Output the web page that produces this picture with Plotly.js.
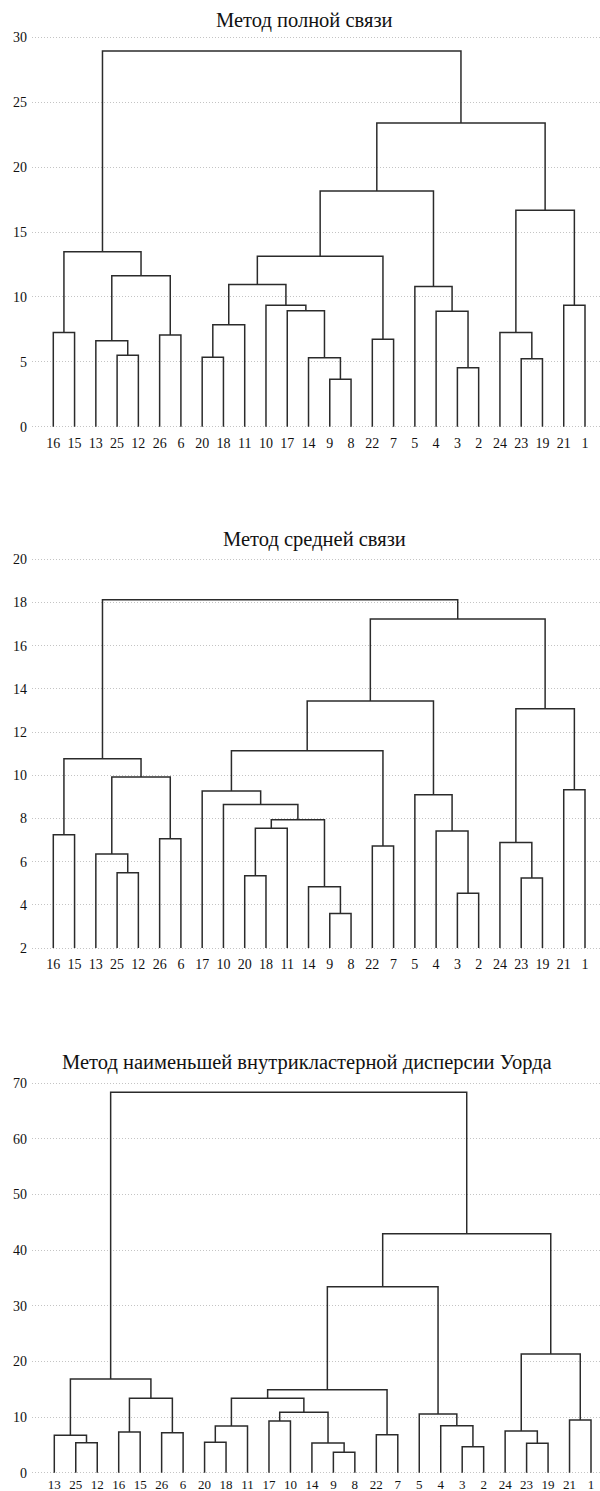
<!DOCTYPE html>
<html>
<head>
<meta charset="utf-8">
<script src="https://cdn.plot.ly/plotly-3.0.1.min.js"></script>
<style>html,body{margin:0;padding:0;background:#fff;}#chart{width:600px;height:1491px;}</style>
</head>
<body>
<div id="chart"></div>
<script>
// ---------- DATA ----------
const titles = [
  "Метод полной связи",
  "Метод средней связи",
  "Метод наименьшей внутрикластерной дисперсии Уорда"
];

// leaf order (tick labels) for each dendrogram
const leavesComplete = [16,15,13,25,12,26,6,20,18,11,10,17,14,9,8,22,7,5,4,3,2,24,23,19,21,1];
const leavesAverage  = [16,15,13,25,12,26,6,17,10,20,18,11,14,9,8,22,7,5,4,3,2,24,23,19,21,1];
const leavesWard     = [13,25,12,16,15,26,6,20,18,11,17,10,14,9,8,22,7,5,4,3,2,24,23,19,21,1];

// merges: left child, right child (leaf number or "mK" = K-th merge), merge height
const completeLeft   = [16,25,13,26,"m2","m0",20,"m6",9,14,17,10,"m7",22,"m12",3,4,5,"m14",23,24,21,"m20","m18","m5"];
const completeRight  = [15,12,"m1",6,"m3","m4",18,11,8,"m8","m9","m10","m11",7,"m13",2,"m15","m16","m17",19,"m19",1,"m21","m22","m23"];
const completeHeight = [7.25,5.5,6.63,7.07,11.62,13.47,5.35,7.86,3.65,5.32,8.94,9.36,10.95,6.74,13.14,4.55,8.9,10.8,18.15,5.24,7.25,9.36,16.68,23.39,28.94];

const averageLeft    = [16,25,13,26,"m2","m0",20,"m6",9,14,"m7",10,17,22,"m12",3,4,5,"m14",23,24,21,"m20","m18","m5"];
const averageRight   = [15,12,"m1",6,"m3","m4",18,11,8,"m8","m9","m10","m11",7,"m13",2,"m15","m16","m17",19,"m19",1,"m21","m22","m23"];
const averageHeight  = [7.25,5.49,6.35,7.06,9.92,10.76,5.35,7.54,3.6,4.84,7.94,8.65,9.27,6.72,11.13,4.53,7.42,9.1,13.44,5.24,6.89,9.33,13.08,17.23,18.13];

const wardLeft       = [25,13,16,26,"m2","m1",20,"m6",17,9,14,"m8","m7",22,"m12",3,4,5,"m14",23,24,21,"m20","m18","m5"];
const wardRight      = [12,"m0",15,6,"m3","m4",18,11,10,8,"m9","m10","m11",7,"m13",2,"m15","m16","m17",19,"m19",1,"m21","m22","m23"];
const wardHeight     = [5.39,6.72,7.32,7.19,13.37,16.85,5.46,8.4,9.3,3.67,5.34,10.86,13.37,6.83,14.92,4.67,8.45,10.55,33.44,5.29,7.5,9.47,21.34,42.97,68.39];

// y axis settings
const yMin  = [0, 2, 0];
const yMax  = [30, 20, 70];
const yStep = [5, 2, 10];

// ---------- LAYOUT GEOMETRY (pixels) ----------
const W = 600, H = 1491;
const plotLeft = 32, plotRight = 600;
const yPixMin = [426.7, 948.0, 1472.7];
const yPixMax = [37.3, 559.3, 1083.3];
const leafPixFirst = [53.3, 53.3, 54.3];
const leafPixLast  = [585.0, 585.0, 591.0];
const titleX = [303.5, 314.5, 306.7];
const titleY = [21, 539, 1062.5];
const leafStandoff = [4, 4, 0];
const leafFontSize = [14, 14, 13];

const LINE = '#2b2b2b';
const GRID = '#c4c4c4';
const FONT = '"Liberation Serif", serif';

function buildSegments(leaves, L, R, Hh, base) {
  const pos = {};
  leaves.forEach((lf, i) => { pos[lf] = {x: i, y: base}; });
  const xs = [], ys = [];
  for (let k = 0; k < Hh.length; k++) {
    const a = pos[L[k]], b = pos[R[k]], h = Hh[k];
    xs.push(a.x, a.x, b.x, b.x, null);
    ys.push(a.y, h, h, b.y, null);
    pos['m' + k] = {x: (a.x + b.x) / 2, y: h};
  }
  return {xs, ys};
}

const sets = [
  [leavesComplete, completeLeft, completeRight, completeHeight],
  [leavesAverage, averageLeft, averageRight, averageHeight],
  [leavesWard, wardLeft, wardRight, wardHeight]
];

const traces = [];
const layout = {
  width: W, height: H,
  margin: {l: 0, r: 0, t: 0, b: 0},
  paper_bgcolor: '#fff', plot_bgcolor: '#fff',
  showlegend: false,
  font: {family: FONT, color: '#111', size: 14},
  annotations: []
};

sets.forEach((s, i) => {
  const [leaves, L, R, Hh] = s;
  const seg = buildSegments(leaves, L, R, Hh, yMin[i]);
  const sfx = i === 0 ? '' : String(i + 1);
  traces.push({
    type: 'scatter', mode: 'lines', x: seg.xs, y: seg.ys,
    xaxis: 'x' + sfx, yaxis: 'y' + sfx,
    line: {color: LINE, width: 1.5, shape: 'linear'},
    connectgaps: false, hoverinfo: 'skip'
  });
  const ppu = (yPixMin[i] - yPixMax[i]) / (yMax[i] - yMin[i]);
  const pad = 2 / ppu;
  const pxBottom = yPixMin[i] + 2, pxTop = yPixMax[i] - 2;
  layout['yaxis' + sfx] = {
    domain: [1 - pxBottom / H, 1 - pxTop / H],
    range: [yMin[i] - pad, yMax[i] + pad],
    tickmode: 'linear', tick0: yMin[i], dtick: yStep[i],
    showgrid: true, gridcolor: GRID, griddash: '1px,2px', gridwidth: 1,
    zeroline: false, showline: false, ticks: '', ticklabelstandoff: 4,
    tickfont: {family: FONT, size: 14, color: '#111'},
    anchor: 'x' + sfx, fixedrange: true
  };
  const xppu = (leafPixLast[i] - leafPixFirst[i]) / (leaves.length - 1);
  layout['xaxis' + sfx] = {
    domain: [plotLeft / W, plotRight / W],
    range: [-(leafPixFirst[i] - plotLeft) / xppu, (leaves.length - 1) + (plotRight - leafPixLast[i]) / xppu],
    tickmode: 'array',
    tickvals: leaves.map((_, j) => j),
    ticktext: leaves.map(String),
    showgrid: false, zeroline: false, showline: false, ticks: '',
    tickangle: 0, ticklabelstandoff: leafStandoff[i],
    tickfont: {family: FONT, size: leafFontSize[i], color: '#111'},
    anchor: 'y' + sfx, fixedrange: true
  };
  layout.annotations.push({
    text: titles[i], xref: 'paper', yref: 'paper',
    x: titleX[i] / W, y: 1 - titleY[i] / H,
    xanchor: 'center', yanchor: 'middle', showarrow: false,
    font: {family: FONT, size: 20.5, color: '#111'}
  });
});

Plotly.newPlot('chart', traces, layout, {staticPlot: true, displayModeBar: false});
</script>
</body>
</html>
